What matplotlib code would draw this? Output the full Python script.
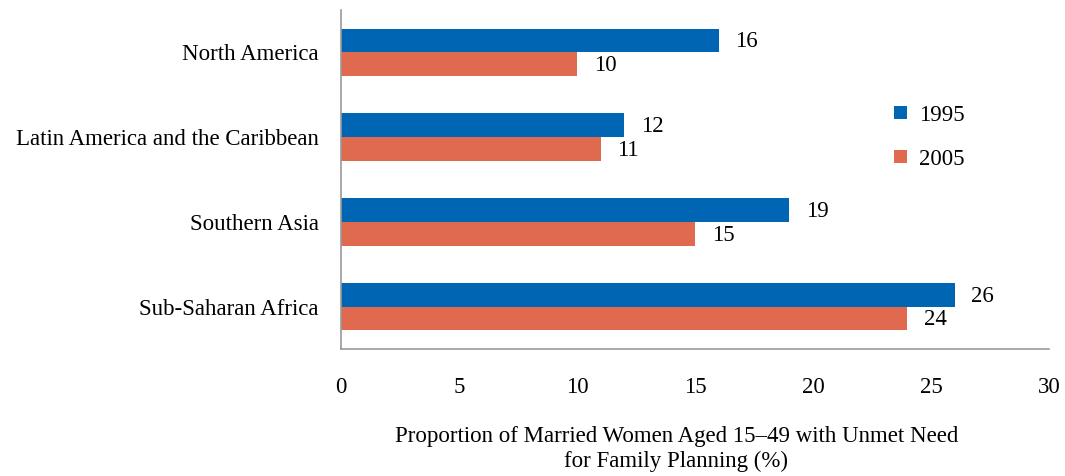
import numpy as np
import matplotlib.pyplot as plt

regions = ['North America', 'Latin America and the Caribbean', 'Southern Asia', 'Sub-Saharan Africa']
v1995 = [16, 12, 19, 26]
v2005 = [10, 11, 15, 24]

plt.rcParams['font.family'] = ['Liberation Serif', 'DejaVu Serif']
fs = 16.5

fig = plt.figure(figsize=(10.65, 4.76), dpi=100)
ax = fig.add_axes([0.3202, 0.2668, 0.6648, 0.7122])

y = np.arange(len(regions))
h = 0.28
b1 = ax.barh(y - h/2, v1995, height=h, color='#0066B3', label='1995')
b2 = ax.barh(y + h/2, v2005, height=h, color='#E06A50', label='2005')

for bars, vals in ((b1, v1995), (b2, v2005)):
    for b, v in zip(bars, vals):
        ax.annotate(str(v), (v, b.get_y() + b.get_height()/2), xytext=(12, -1),
                    textcoords='offset points', va='center', ha='left', fontsize=fs)

ax.set_ylim(len(regions) - 0.5, -0.5)
ax.set_xlim(0, 30)
ax.set_xticks(range(0, 31, 5))
ax.set_yticks(y)
ax.set_yticklabels(regions)
ax.tick_params(axis='both', length=0, labelsize=fs)
ax.tick_params(axis='x', pad=20)
ax.tick_params(axis='y', pad=16)
for s in ['top', 'right']:
    ax.spines[s].set_visible(False)
for s in ['left', 'bottom']:
    ax.spines[s].set_color('#9a9a9a')
    ax.spines[s].set_linewidth(1.2)

fig.legend(handles=[b1, b2], loc='center left', bbox_to_anchor=(0.82, 0.712),
           frameon=False, fontsize=fs, handlelength=0.55, handleheight=0.55,
           handletextpad=0.55, labelspacing=1.0)

fig.text(0.635, 0.057, 'Proportion of Married Women Aged 15\u201349 with Unmet Need\nfor Family Planning (%)',
         ha='center', va='center', fontsize=fs, linespacing=1.2)

plt.savefig('out.png', dpi=100)
